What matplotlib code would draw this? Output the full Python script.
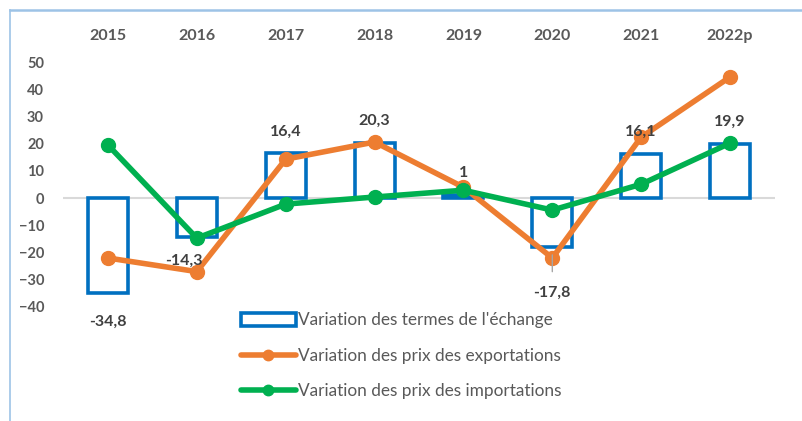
import matplotlib.pyplot as plt
from matplotlib.lines import Line2D
import numpy as np

years = ['2015', '2016', '2017', '2018', '2019', '2020', '2021', '2022p']
termes = [-34.8, -14.3, 16.4, 20.3, 1, -17.8, 16.1, 19.9]
exports = [-22.0, -27.0, 14.3, 20.6, 4.0, -22.0, 22.4, 44.5]
imports = [19.5, -14.7, -2.2, 0.4, 2.9, -4.4, 5.1, 20.2]
labels = ['-34,8', '-14,3', '16,4', '20,3', '1', '-17,8', '16,1', '19,9']

blue = '#0070C0'
orange = '#ED7D31'
green = '#00B050'
grey = '#595959'

plt.rcParams['font.family'] = ['Lato', 'DejaVu Sans']

fig = plt.figure(figsize=(8.02, 4.21), dpi=100)
ax = fig.add_axes([63.5 / 802, 1 - 307 / 421, 711 / 802, 245 / 421])
x = np.arange(len(years))

ax.axhline(0, color='#D9D9D9', lw=1.5, zorder=0)
bars = ax.bar(x, termes, width=0.45, facecolor='none', edgecolor=blue, lw=2.6,
              label="Variation des termes de l'échange", zorder=2)
l1, = ax.plot(x, exports, color=orange, lw=4, marker='o', ms=10, solid_capstyle='round',
              label='Variation des prix des exportations', zorder=3)
l2, = ax.plot(x, imports, color=green, lw=4, marker='o', ms=10, solid_capstyle='round',
              label='Variation des prix des importations', zorder=4)

# data labels on bars
offsets = {0: (0, -29), 1: (-13, -24), 5: (0, -46)}
for i, (v, t) in enumerate(zip(termes, labels)):
    dx, dy = offsets.get(i, (0, 22))
    kw = {}
    if i == 5:
        kw['arrowprops'] = dict(arrowstyle='-', color='#A6A6A6', lw=1, shrinkA=8, shrinkB=6)
    ax.annotate(t, (i, v), xytext=(dx, dy), textcoords='offset pixels',
                ha='center', va='center', fontsize=11.5, fontweight='bold',
                color='#404040', zorder=5, **kw)

ax.set_xlim(-0.5, 7.5)
ax.set_ylim(-40, 50)
ax.set_yticks(range(-40, 51, 10))
ax.set_xticks(x, years)
ax.xaxis.tick_top()
ax.tick_params(axis='x', length=0, pad=14, labelsize=11.5, labelcolor=grey)
ax.tick_params(axis='y', length=0, pad=14, labelsize=10.5, labelcolor=grey)
for lab in ax.get_xticklabels() + ax.get_yticklabels():
    lab.set_fontweight('bold')
for s in ax.spines.values():
    s.set_visible(False)
ax.patch.set_alpha(0)

fig.legend([bars, l1, l2], [bars.get_label(), l1.get_label(), l2.get_label()],
           loc='upper left', bbox_to_anchor=(225 / 802, 1 - 297 / 421), frameon=False,
           fontsize=12.4, labelcolor=grey, handlelength=3.2, handletextpad=0.15,
           labelspacing=1.12, markerscale=0.75)

fig.add_artist(Line2D([10 / 802, 1], [1 - 10 / 421] * 2, color='#9DC3E6', lw=1.8))
fig.add_artist(Line2D([10 / 802] * 2, [0, 1 - 10 / 421], color='#9DC3E6', lw=1.2))

fig.savefig('out.png', dpi=100)
